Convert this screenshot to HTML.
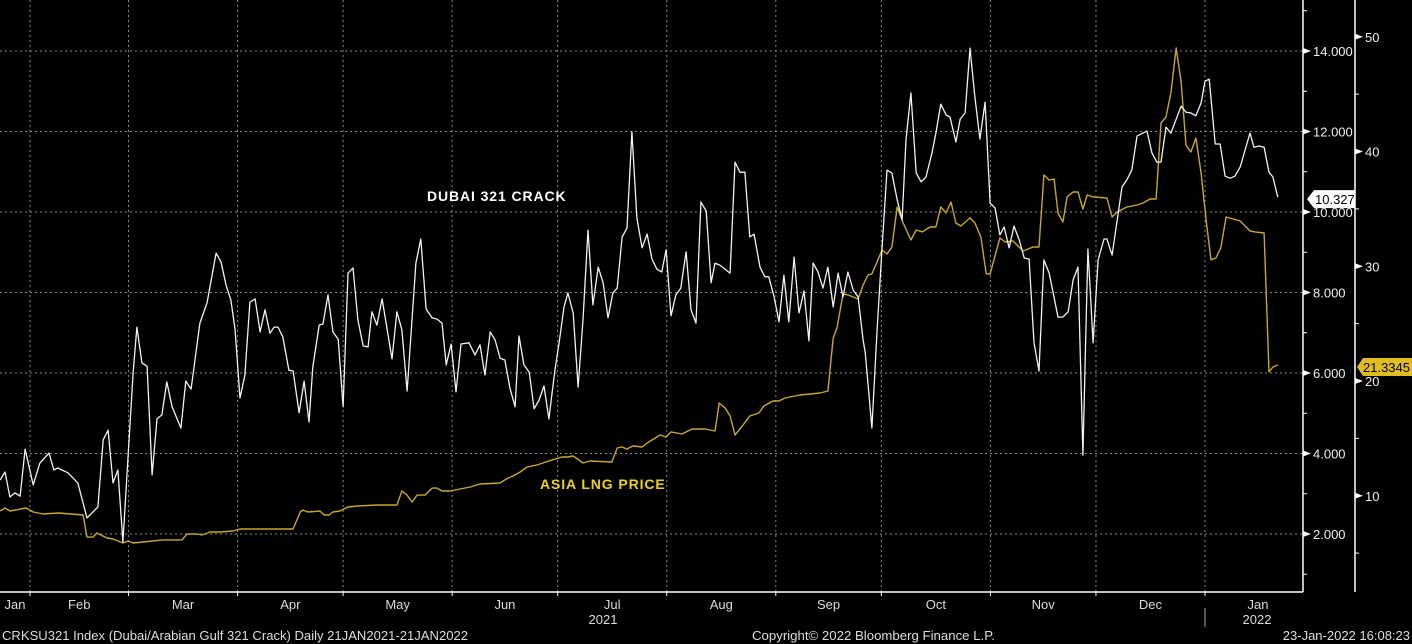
<!DOCTYPE html>
<html><head><meta charset="utf-8"><style>
html,body{margin:0;padding:0;background:#000;}
svg{display:block;font-family:"Liberation Sans",sans-serif;}
</style></head><body>
<svg id="chart" width="1412" height="644" viewBox="0 0 1412 644" xmlns="http://www.w3.org/2000/svg">
<rect width="1412" height="644" fill="#000"/>
<g id="grid"></g>
<g id="series"></g>
<g id="axes"></g>
<text x="427" y="201" fill="#fff" font-size="14" font-weight="bold" letter-spacing="0.9">DUBAI 321 CRACK</text>
<text x="540" y="489" fill="#f0d21e" font-size="14" font-weight="bold" letter-spacing="0.9">ASIA LNG PRICE</text>
<text x="2" y="640" fill="#ddd" font-size="13" textLength="466" lengthAdjust="spacingAndGlyphs">CRKSU321 Index (Dubai/Arabian Gulf 321 Crack)  Daily 21JAN2021-21JAN2022</text>
<text x="752" y="640" fill="#ddd" font-size="13" textLength="243" lengthAdjust="spacingAndGlyphs">Copyright© 2022 Bloomberg Finance L.P.</text>
<text x="1410" y="640" fill="#ddd" font-size="13" text-anchor="end">23-Jan-2022 16:08:23</text>
</svg>
<script>
// Days since 21-Jan-2021
const months = ["Jan","Feb","Mar","Apr","May","Jun","Jul","Aug","Sep","Oct","Nov","Dec","Jan"];
const monthStartDays = [-20,11,39,70,100,131,161,192,223,253,284,314,345];
const yearLabels = ["2021","2022"];
const whiteTicks = [2,4,6,8,10,12,14];
const yellowTicks = [10,20,30,40,50];
const dubaiDays = [2.5,3.9,5.3,6.7,8.2,9.6,11.9,13.8,16.4,17.8,18.9,21.8,24.6,27.2,30.3,31.8,33.2,34.6,36.0,37.4,40.3,41.4,42.8,44.3,45.7,47.1,48.5,49.9,51.4,53.9,55.3,56.8,59.3,61.3,63.9,65.3,66.7,68.1,69.3,70.7,72.1,73.5,75.0,76.4,77.8,79.2,80.4,81.5,82.9,84.6,85.8,87.5,88.9,90.3,91.4,93.2,94.3,95.7,97.1,98.6,100,101.4,102.8,104.2,105.7,107.1,108.2,109.6,111.1,113.9,115.3,116.7,118.2,120.7,122.1,123.6,125.3,126.7,128.1,129.3,130.7,132.1,133.5,135.8,137.5,138.9,140.3,141.8,143.2,144.6,146,147.4,148.9,150,151.4,152.9,154.3,155.7,157.1,158.5,160.2,161.4,162.8,163.9,165.4,166.8,168.2,169.6,171,172.5,173.9,175.3,176.7,177.9,179.3,180.7,182.1,183.5,185,186.4,187.8,189.2,190.6,191.8,193.2,194.6,196,197.5,198.9,200.3,201.7,203.2,204.6,205.7,207.1,210,211.4,212.8,214.2,215.6,216.8,218.5,219.9,221,222.5,223.9,225.3,226.7,228.2,229.6,231,232.4,233.6,235,236.4,237.8,239.3,240.7,242.1,243.5,245,246.4,247.8,248.4,250.3,251.8,253.2,254.6,256,257.5,258.9,260,261.4,262.9,264.3,265.7,267.4,268.5,269.9,271.4,272.5,274.2,275.4,276.8,278.2,279.6,281,282.5,283.9,285.3,286.7,287.9,289.3,290.7,292.2,293.6,295,296.4,297.8,299.2,300.7,303.2,304.6,306.1,307.5,308.9,310.3,311.7,313.2,314.6,316.3,317.1,318.6,321.4,322.8,324.2,325.7,328.5,329.9,331.3,332.5,333.9,335.3,338.2,339.6,341,342.4,343.9,345,346.2,347.9,349.3,350.7,352.1,353.5,355,357.8,358.9,360.4,361.8,363.2,364.3,365.7];
const dubaiValues = [3.34,3.54,2.92,3.02,2.94,4.11,3.22,3.76,4.01,3.59,3.64,3.52,3.27,2.40,2.67,4.34,4.58,3.27,3.59,1.80,6.00,7.14,6.25,6.17,3.47,4.86,4.96,5.78,5.16,4.63,5.80,5.60,7.24,7.74,8.98,8.76,8.19,7.81,7.07,5.38,5.95,7.76,7.84,7.02,7.57,6.99,7.14,7.14,6.89,6.07,6.05,5.01,5.80,4.78,6.15,7.19,7.22,7.94,7.02,6.84,5.16,8.48,8.61,7.32,6.67,6.65,7.52,7.19,7.84,6.35,7.52,7.07,5.55,8.73,9.33,7.59,7.37,7.34,7.24,6.20,6.72,5.53,6.72,6.75,6.45,6.70,5.95,7.02,6.82,6.37,6.32,5.63,5.16,6.92,6.20,6.02,5.11,5.33,5.68,4.86,6.07,6.75,7.64,7.99,7.49,5.65,7.32,9.55,7.69,8.63,8.24,7.37,7.99,8.11,9.38,9.60,11.99,9.85,9.11,9.45,8.83,8.58,8.51,9.06,7.42,7.94,8.11,9.01,7.57,7.24,10.25,10.02,8.24,8.73,8.68,8.48,11.24,10.99,10.99,9.38,9.45,8.63,8.39,8.39,7.89,7.27,8.43,7.27,8.88,7.49,8.04,6.80,8.73,8.51,8.11,8.63,7.64,8.48,7.89,8.51,8.06,7.89,6.82,6.52,4.63,7.07,9.13,11.04,10.97,10.30,9.80,11.79,12.96,10.97,10.75,10.87,11.47,11.96,12.68,12.41,12.36,11.74,12.31,12.46,14.07,12.86,11.81,12.73,10.22,10.10,9.43,9.63,9.11,9.65,9.30,8.86,8.83,6.75,6.05,8.81,8.48,7.39,7.39,7.52,8.31,8.63,3.96,9.08,6.75,8.81,9.33,9.33,8.93,10.62,10.80,11.04,11.89,12.01,11.47,11.24,11.24,12.11,11.96,12.63,12.48,12.46,12.39,12.71,13.25,13.30,11.69,11.69,10.89,10.84,10.89,11.12,11.96,11.61,11.64,11.61,10.99,10.87,10.37];
const lngDays = [2.5,3.9,5.3,9.9,11.9,14.7,19.2,26.1,27.2,28.9,30.0,32.9,34.6,37.4,38.9,40.3,48.8,54.2,55.6,58.5,59.9,62.2,65.0,68.7,70.7,85.8,87.8,88.6,90.0,93.4,94.6,96.0,97.1,99.1,101.4,104.2,109.6,115.3,116.7,118.2,119.6,121.0,123.3,125.3,126.7,128.1,130.4,136.1,138.9,144.6,146.9,148.3,150.3,152.3,155.1,156.8,159.4,162.2,163.9,165.4,168.2,170.2,176.4,177.9,179.3,180.7,182.4,185.0,186.4,190.1,191.8,193.2,196.3,199.2,202.9,205.7,206.9,208.6,210.0,211.4,213.7,215.6,218.2,219.6,222.2,223.9,225.6,229.9,232.7,235.6,237.8,239.3,240.4,242.1,243.5,246.4,247.8,249.2,250.3,253.2,254.6,256.0,257.5,259.2,261.4,262.9,264.6,266.8,268.5,269.9,271.4,272.8,274.2,275.6,278.2,279.6,281.3,282.8,283.9,286.7,288.2,290.4,293.3,296.1,297.8,299.2,300.7,302.1,303.2,304.6,305.8,307.5,308.9,310.3,311.5,313.2,317.1,318.6,320.0,322.8,325.7,327.4,329.4,331.1,332.5,333.9,335.3,336.8,338.2,339.6,341.0,342.4,343.9,345.3,346.7,348.1,349.5,351.0,355.0,357.8,359.2,361.8,363.2,364.3,365.7];
const lngValues = [8.67,8.93,8.67,8.93,8.58,8.41,8.50,8.32,6.40,6.40,6.75,6.32,6.23,5.88,6.06,5.88,6.15,6.15,6.67,6.67,6.58,6.84,6.84,6.93,7.10,7.10,8.58,8.76,8.58,8.67,8.32,8.32,8.58,8.67,9.02,9.11,9.19,9.19,10.41,10.06,9.45,10.06,10.06,10.67,10.67,10.41,10.41,10.76,11.02,11.11,11.55,11.72,12.07,12.51,12.68,12.85,13.12,13.38,13.38,13.46,12.85,13.03,12.94,14.16,14.25,14.07,14.34,14.25,14.60,15.29,15.12,15.56,15.38,15.82,15.82,15.64,18.08,17.65,16.95,15.29,16.17,16.95,17.21,17.82,18.26,18.26,18.52,18.78,18.87,18.95,19.13,23.75,24.62,27.58,27.50,27.15,28.37,29.24,29.33,31.42,31.07,31.68,35.16,33.77,32.29,33.16,32.99,33.42,33.42,35.16,34.64,35.60,33.77,33.51,34.21,33.77,32.55,29.33,29.33,32.46,32.11,32.20,31.33,31.68,31.68,37.95,37.52,37.60,34.64,33.86,36.04,36.47,36.47,34.99,36.21,36.04,35.95,34.29,34.73,35.16,35.34,35.51,35.86,35.86,42.48,43.01,45.10,49.02,46.06,40.57,39.96,41.18,38.13,34.03,30.55,30.72,31.59,34.29,33.94,33.07,32.99,32.90,20.78,21.22,21.39];

const NS = "http://www.w3.org/2000/svg";
const PLOT_R = 1303, PLOT_B = 592, YAX = 1355;
const xDay = d => -8.7 + d * 3.518;
const yWhite = v => 534 - (v - 2) * 40.25;
const yYellow = v => 381 - (v - 20) * 11.475;
function mk(tag, attrs, parent) {
  const el = document.createElementNS(NS, tag);
  for (const k in attrs) el.setAttribute(k, attrs[k]);
  parent.appendChild(el);
  return el;
}
const grid = document.getElementById('grid');
const series = document.getElementById('series');
const axes = document.getElementById('axes');

whiteTicks.forEach(v => {
  const l = mk('line', {x1:0, x2:PLOT_R, y1:yWhite(v), y2:yWhite(v), stroke:'#8a8a8a', 'stroke-width':1, 'stroke-dasharray':'2,3'}, grid);
  
  
});
monthStartDays.forEach((d, i) => {
  const x = xDay(d);
  if (i > 0) {
    const l = mk('line', {x1:x, x2:x, y1:0, y2:PLOT_B, stroke:'#8a8a8a', 'stroke-width':1, 'stroke-dasharray':'2,3'}, grid);
    
    
    const t = mk('line', {x1:x, x2:x, y1:PLOT_B, y2:PLOT_B+4, stroke:'#fff'}, axes);
    
    
  }
  const next = i < monthStartDays.length - 1 ? xDay(monthStartDays[i+1]) : x + 100;
  let cx = (Math.max(x, 0) + Math.min(next, PLOT_R)) / 2;
  if (i === 0) cx = 15;
  if (i === months.length - 1) cx = 1258;
  const lab = mk('text', {x:cx, y:609, fill:'#ddd', 'font-size':13, 'text-anchor':'middle'}, axes);
  lab.textContent = months[i];
  
  
});
const y1 = mk('text', {x:603, y:624, fill:'#ddd', 'font-size':13, 'text-anchor':'middle'}, axes);
y1.textContent = yearLabels[0];


const y2 = mk('text', {x:1257, y:624, fill:'#ddd', 'font-size':13, 'text-anchor':'middle'}, axes);
y2.textContent = yearLabels[1];


const sep = mk('line', {x1:xDay(monthStartDays[12]), x2:xDay(monthStartDays[12]), y1:608, y2:627, stroke:'#aaa'}, axes);



const xa = mk('line', {x1:0, x2:PLOT_R, y1:PLOT_B, y2:PLOT_B, stroke:'#fff', 'stroke-width':1.5}, axes);


const ya = mk('line', {x1:PLOT_R, x2:PLOT_R, y1:0, y2:PLOT_B, stroke:'#fff', 'stroke-width':1.5}, axes);


const yb = mk('line', {x1:YAX, x2:YAX, y1:0, y2:PLOT_B, stroke:'#fff', 'stroke-width':1.5}, axes);



whiteTicks.forEach(v => {
  const y = yWhite(v);
  const tri = mk('polygon', {points:`${PLOT_R},${y-3} ${PLOT_R+8},${y} ${PLOT_R},${y+3}`, fill:'#fff'}, axes);
  
  
  const t = mk('text', {x:PLOT_R+10, y:y+5, fill:'#eee', 'font-size':13}, axes);
  t.textContent = v.toFixed(3);
  
  
  const m = mk('line', {x1:PLOT_R, x2:PLOT_R+4, y1:yWhite(v+1), y2:yWhite(v+1), stroke:'#fff'}, axes);
  
  
});
const m1 = mk('line', {x1:PLOT_R, x2:PLOT_R+4, y1:yWhite(1), y2:yWhite(1), stroke:'#fff'}, axes);


yellowTicks.forEach(v => {
  const y = yYellow(v);
  const tri = mk('polygon', {points:`${YAX},${y-3} ${YAX+8},${y} ${YAX},${y+3}`, fill:'#fff'}, axes);
  
  
  const t = mk('text', {x:YAX+10, y:y+5, fill:'#eee', 'font-size':13}, axes);
  t.textContent = String(v);
  
  
  const m = mk('line', {x1:YAX, x2:YAX+4, y1:yYellow(v-5), y2:yYellow(v-5), stroke:'#fff'}, axes);
  
  
});

function path(days, vals, yf) {
  return days.map((d, i) => (i ? 'L' : 'M') + xDay(d).toFixed(1) + ',' + yf(vals[i]).toFixed(1)).join(' ');
}
const lng = mk('path', {d:path(lngDays, lngValues, yYellow), fill:'none', stroke:'#c9a82c', 'stroke-width':1.4, 'stroke-linejoin':'round'}, series);


const dub = mk('path', {d:path(dubaiDays, dubaiValues, yWhite), fill:'none', stroke:'#f2f2f2', 'stroke-width':1.3, 'stroke-linejoin':'round'}, series);



const lastW = dubaiValues[dubaiValues.length-1];
const yw = yWhite(lastW) + 2;
const tagW = mk('polygon', {points:`${PLOT_R+4},${yw} ${PLOT_R+11},${yw-9} ${YAX},${yw-9} ${YAX},${yw+9} ${PLOT_R+11},${yw+9}`, fill:'#fff'}, axes);


const tw = mk('text', {x:PLOT_R+12, y:yw+5, fill:'#000', 'font-size':13}, axes);
tw.textContent = "10.327";


const lastY = lngValues[lngValues.length-1];
const yy = yYellow(lastY) + 2;
const tagY = mk('polygon', {points:`${YAX+2},${yy} ${YAX+8},${yy-9} 1412,${yy-9} 1412,${yy+9} ${YAX+8},${yy+9}`, fill:'#e3bd1c'}, axes);


const ty = mk('text', {x:YAX+8, y:yy+5, fill:'#000', 'font-size':13}, axes);
ty.textContent = "21.3345";


</script>
</body></html>
